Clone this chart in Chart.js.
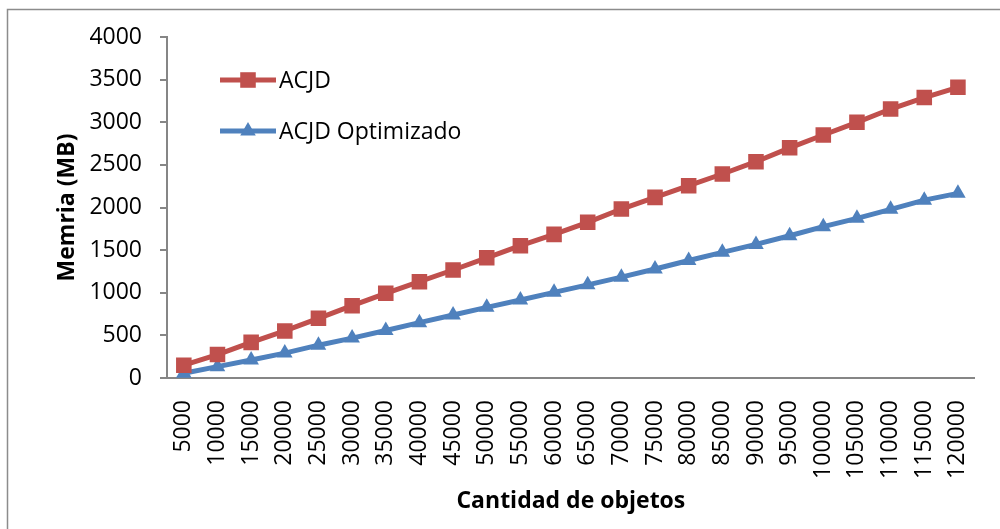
<!DOCTYPE html>
<html>
<head>
<meta charset="utf-8">
<script src="https://cdn.jsdelivr.net/npm/chart.js@4/dist/chart.umd.min.js"></script>
<style>
  html, body { margin: 0; padding: 0; background: #fff; }
  #wrap { position: relative; width: 1000px; height: 529px; }
</style>
</head>
<body>
<div id="wrap"><canvas id="chart" width="1000" height="529"></canvas></div>
<script>
const categories = ["5000", "10000", "15000", "20000", "25000", "30000", "35000", "40000",
    "45000", "50000", "55000", "60000", "65000", "70000", "75000", "80000", "85000",
    "90000", "95000", "100000", "105000", "110000", "115000", "120000"];
const acjd = [150, 275, 418, 552, 700, 848, 993, 1130, 1267, 1410, 1552, 1685, 1826, 1982,
    2119, 2256, 2393, 2537, 2700, 2850, 2999, 3155, 3290, 3410];
const acjdOpt = [55, 133, 211, 292, 385, 468, 557, 649, 739, 829, 915, 1005, 1093, 1183,
    1279, 1378, 1474, 1567, 1669, 1775, 1873, 1979, 2086, 2166];
const yTicks = [0, 500, 1000, 1500, 2000, 2500, 3000, 3500, 4000];

const FONT = "'Open Sans', sans-serif";
const axisGray = "#868686";

// outer frame like the office chart box
const framePlugin = {
    id: 'frame',
    beforeDraw: (chart) => {
        const ctx = chart.ctx;
        ctx.save();
        ctx.fillStyle = '#fff';
        ctx.fillRect(0, 0, chart.width, chart.height);
        ctx.strokeStyle = '#8c8c8c';
        ctx.lineWidth = 1.5;
        ctx.strokeRect(7.5, 9.5, 1200, 700);
        ctx.restore();
    }
};

// legend inside the plot, line + marker + label
const innerLegend = {
    id: 'innerLegend',
    afterDatasetsDraw: (chart) => {
        const ctx = chart.ctx;
        const area = chart.chartArea;
        const rows = [43, 94];
        ctx.save();
        chart.data.datasets.forEach((ds, i) => {
            const y = area.top + rows[i];
            const x0 = area.left + 53, x1 = area.left + 109, xm = (x0 + x1) / 2;
            ctx.strokeStyle = ds.borderColor;
            ctx.lineWidth = ds.borderWidth;
            ctx.beginPath();
            ctx.moveTo(x0, y);
            ctx.lineTo(x1, y);
            ctx.stroke();
            ctx.fillStyle = ds.pointBackgroundColor;
            const r = ds.pointRadius;
            ctx.beginPath();
            if (ds.pointStyle === 'rect') {
                const s = Math.SQRT1_2 * r;
                ctx.rect(xm - s, y - s, 2 * s, 2 * s);
            } else {
                for (let k = 0; k < 3; k++) {
                    const a = k * 2 * Math.PI / 3;
                    const px = xm + Math.sin(a) * r, py = y - Math.cos(a) * r;
                    k ? ctx.lineTo(px, py) : ctx.moveTo(px, py);
                }
                ctx.closePath();
            }
            ctx.fill();
            ctx.fillStyle = '#000';
            ctx.font = "23px " + FONT;
            ctx.textBaseline = 'middle';
            ctx.textAlign = 'left';
            ctx.fillText(ds.label, x1 + 3, y + 1);
        });
        ctx.restore();
    }
};

new Chart(document.getElementById('chart').getContext('2d'), {
    type: 'line',
    data: {
        labels: categories,
        datasets: [
            {
                label: "ACJD",
                data: acjd,
                borderColor: "#C0504D",
                backgroundColor: "#C0504D",
                pointBackgroundColor: "#C0504D",
                pointBorderWidth: 0,
                borderWidth: 5,
                pointStyle: 'rect',
                pointRadius: 11,
                tension: 0
            },
            {
                label: "ACJD Optimizado",
                data: acjdOpt,
                borderColor: "#4F81BD",
                backgroundColor: "#4F81BD",
                pointBackgroundColor: "#4F81BD",
                pointBorderWidth: 0,
                borderWidth: 5,
                pointStyle: 'triangle',
                pointRadius: 9,
                tension: 0
            }
        ]
    },
    options: {
        responsive: false,
        animation: false,
        devicePixelRatio: 1,
        layout: { padding: { top: 37, right: 23, left: 0, bottom: 0 } },
        plugins: {
            legend: { display: false },
            tooltip: { enabled: false }
        },
        scales: {
            x: {
                offset: true,
                grid: { display: false },
                border: { display: true, color: axisGray, width: 2 },
                ticks: {
                    color: '#000',
                    font: { family: FONT, size: 23 },
                    minRotation: 90,
                    maxRotation: 90,
                    autoSkip: false,
                    padding: 14
                },
                title: {
                    display: true,
                    text: "Cantidad de objetos",
                    color: '#000',
                    font: { family: FONT, size: 23, weight: 'bold' },
                    padding: { top: 0, bottom: 14 }
                },
                afterFit: (scale) => { scale.height = 151; }
            },
            y: {
                min: 0,
                max: 4000,
                afterBuildTicks: (scale) => { scale.ticks = yTicks.map(v => ({ value: v })); },
                grid: {
                    display: true,
                    drawOnChartArea: false,
                    drawTicks: true,
                    tickLength: 7,
                    color: axisGray,
                    lineWidth: 2
                },
                border: { display: true, color: axisGray, width: 2 },
                ticks: {
                    color: '#000',
                    font: { family: FONT, size: 23 },
                    padding: 18,
                    callback: (v) => String(v)
                },
                title: {
                    display: true,
                    text: "Memria (MB)",
                    color: '#000',
                    font: { family: FONT, size: 23, weight: 'bold' },
                    padding: { top: 54, bottom: 0 }
                },
                afterFit: (scale) => { scale.width = 167; }
            }
        }
    },
    plugins: [framePlugin, innerLegend]
});
</script>
</body>
</html>
